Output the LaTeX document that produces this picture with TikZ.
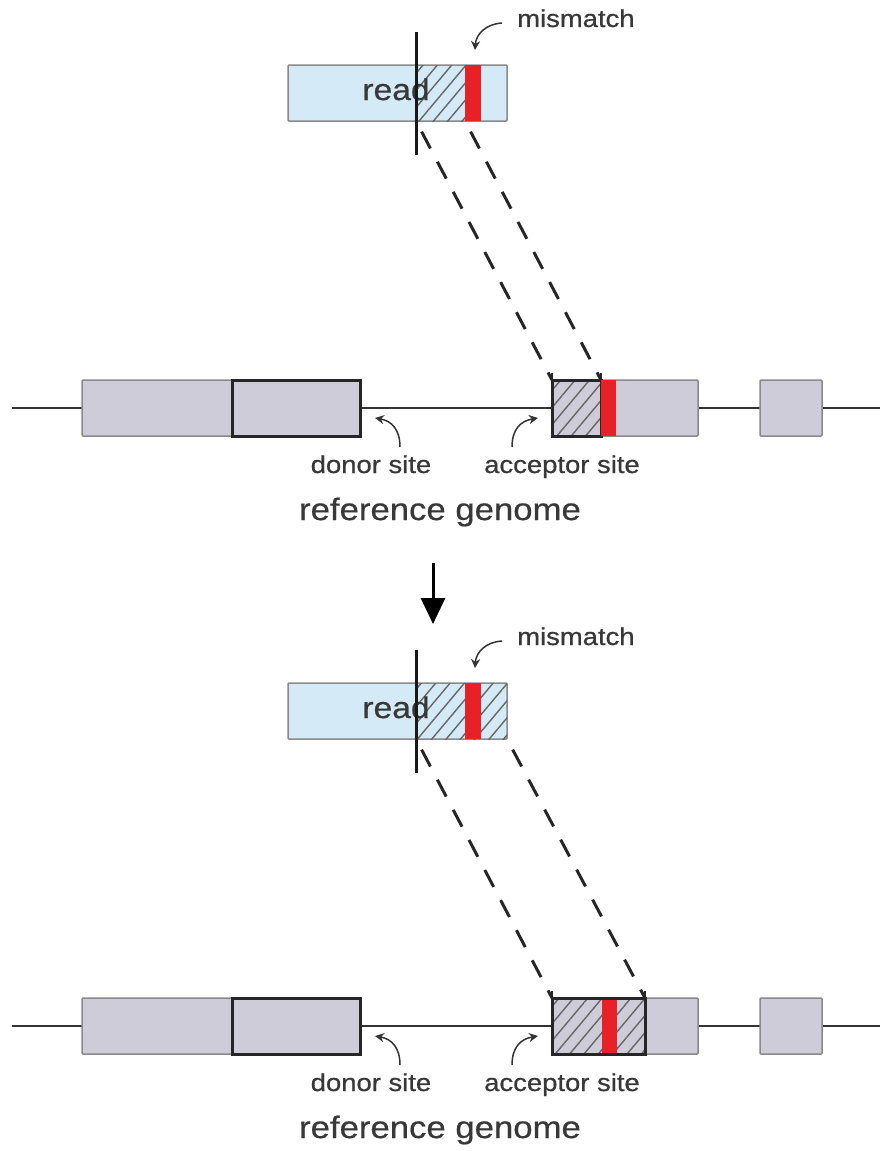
\documentclass[tikz,border=0pt]{standalone}
\usepackage{fontspec}
\setmainfont{Liberation Sans}[FakeStretch=1.12,FakeBold=0.6]
\usetikzlibrary{arrows.meta,patterns.meta}
\definecolor{readblue}{HTML}{D5EAF7}
\definecolor{exongrey}{HTML}{CDCCD8}
\definecolor{edgegrey}{HTML}{8A8A8A}
\definecolor{mmred}{HTML}{E82028}
\definecolor{txtgrey}{HTML}{383838}
\begin{document}
\begin{tikzpicture}[x=1pt,y=-1pt,
  exon/.style={fill=exongrey,draw=edgegrey,line width=1.5pt,rounded corners=1pt},
  readbox/.style={fill=readblue,draw=edgegrey,line width=1.5pt,rounded corners=1pt},
  hatch/.style={pattern={Lines[angle=50,distance=11pt,line width=1.4pt]},pattern color=black!60},
  redbar/.style={fill=mmred},
  thickbox/.style={draw=black!85,line width=3pt},
  tick/.style={draw=black!85,line width=2pt},
  backbone/.style={draw=black!80,line width=2.8pt},
  cutline/.style={draw=black!90,line width=3pt},
  dashedlink/.style={draw=black!85,line width=3pt,dash pattern=on 19pt off 15pt,dash phase=-12pt},
  pointer/.style={draw=black!80,line width=1.5pt,-{Stealth[length=9pt,width=9pt]}},
  small/.style={text=txtgrey,font=\fontsize{24.5}{28}\selectfont,inner sep=0pt,anchor=base},
  readtext/.style={text=txtgrey,font=\fontsize{30}{34}\selectfont,inner sep=0pt,anchor=base},
  bigtext/.style={text=txtgrey,font=\fontsize{31}{36}\selectfont,inner sep=0pt,anchor=base},
  bigarrow/.style={draw=black,line width=3pt,-{Triangle[length=26pt,width=24pt]}}
]
\useasboundingbox[fill=white] (0,0) rectangle (880,1151);

% ================= top panel =================
\begin{scope}
  \coordinate (bbL1) at (12,408);
  \coordinate (bbR1) at (880,408);
  \draw[backbone] (bbL1) -- (bbR1);
  \path[exon] (82,380) rectangle (360,436);
  \draw[thickbox] (232,380) rectangle (360,436);
  \path[exon] (552,380) rectangle (698,436);
  \path[exon] (760,380) rectangle (822,436);
  \path[hatch] (552,380) rectangle (601,436);
  \draw[thickbox] (552,380) rectangle (601,436);
  \fill[redbar] (601,380) rectangle (616,436);
  \coordinate (accL1) at (552,380);
  \coordinate (accR1) at (601,380);
  \draw[tick] (accL1) -- ++(0,-7);
  \draw[tick] (accR1) -- ++(0,-7);

  \path[readbox] (288,65) rectangle (507,121);
  \path[hatch] (416,65) rectangle (465,121);
  \fill[redbar] (465,65) rectangle (481,121);
  \node[readtext] (read1) at (396,100) {read};
  \coordinate (cutT1) at (416,32);
  \coordinate (cutB1) at (416,155);
  \draw[cutline] (cutT1) -- (cutB1);
  \coordinate (rdL1) at (416,121);
  \coordinate (rdR1) at (465,121);
  \draw[dashedlink] (rdL1) -- (accL1);
  \draw[dashedlink] (rdR1) -- (accR1);

  \node[small,anchor=base west] (mm1) at (517,27) {mismatch};
  \draw[pointer] (502,23) .. controls (486,24) and (476,34) .. (475,50);

  \node[small] (donor1) at (371,473) {donor site};
  \draw[pointer] (400,447) .. controls (400,430) and (392,421) .. (375,418);
  \node[small] (acc1) at (562,473) {acceptor site};
  \draw[pointer] (512,447) .. controls (512,430) and (520,421) .. (538,418);
  \node[bigtext] (ref1) at (440,520) {reference genome};
\end{scope}

\coordinate (arT) at (433,563);
\coordinate (arB) at (433,624);
\draw[bigarrow] (arT) -- (arB);

% ================= bottom panel =================
\begin{scope}[shift={(0,618)}]
  \coordinate (bbL2) at (12,408);
  \coordinate (bbR2) at (880,408);
  \draw[backbone] (bbL2) -- (bbR2);
  \path[exon] (82,380) rectangle (360,436);
  \draw[thickbox] (232,380) rectangle (360,436);
  \path[exon] (552,380) rectangle (698,436);
  \path[exon] (760,380) rectangle (822,436);
  \path[hatch] (552,380) rectangle (645,436);
  \fill[redbar] (602,380) rectangle (617,436);
  \draw[thickbox] (552,380) rectangle (645,436);
  \coordinate (accL2) at (552,380);
  \coordinate (accR2) at (645,380);
  \draw[tick] (accL2) -- ++(0,-7);
  \draw[tick] (accR2) -- ++(0,-7);

  \path[readbox] (288,65) rectangle (507,121);
  \path[hatch] (416,65) rectangle (507,121);
  \fill[redbar] (465,65) rectangle (481,121);
  \node[readtext] (read2) at (396,100) {read};
  \coordinate (cutT2) at (416,32);
  \coordinate (cutB2) at (416,155);
  \draw[cutline] (cutT2) -- (cutB2);
  \coordinate (rdL2) at (416,121);
  \coordinate (rdR2) at (507,121);
  \draw[dashedlink] (rdL2) -- (accL2);
  \draw[dashedlink] (rdR2) -- (accR2);

  \node[small,anchor=base west] (mm2) at (517,27) {mismatch};
  \draw[pointer] (502,23) .. controls (486,24) and (476,34) .. (475,50);

  \node[small] (donor2) at (371,473) {donor site};
  \draw[pointer] (400,447) .. controls (400,430) and (392,421) .. (375,418);
  \node[small] (acc2) at (562,473) {acceptor site};
  \draw[pointer] (512,447) .. controls (512,430) and (520,421) .. (538,418);
  \node[bigtext] (ref2) at (440,520) {reference genome};
\end{scope}
\end{tikzpicture}
\end{document}
